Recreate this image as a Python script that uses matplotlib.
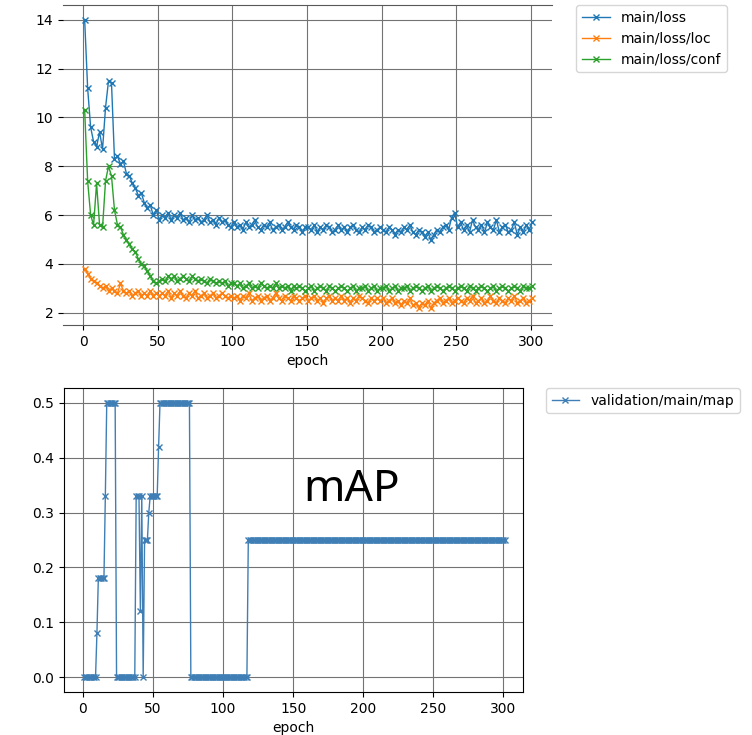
import matplotlib
matplotlib.use('Agg')
import numpy as np
import matplotlib.pyplot as plt

# loss values, one reading every 2 epochs (1, 3, ..., 301)
loss_epochs = np.arange(1, 302, 2)

main_loss = [
    14.0, 11.2, 9.6, 9.0, 8.8, 9.4, 8.7, 10.4, 11.5, 11.4,
    8.3, 8.4, 8.1, 8.2, 7.7, 7.6, 7.3, 7.1, 6.8, 6.9,
    6.5, 6.3, 6.4, 6.0, 6.2, 5.8, 6.0, 5.9, 6.1, 5.8,
    6.0, 5.9, 6.1, 5.8, 5.9, 5.7, 6.0, 5.8, 5.9, 5.7,
    5.8, 6.0, 5.7, 5.8, 5.6, 5.9, 5.7, 5.8, 5.6, 5.5,
    5.7, 5.5, 5.6, 5.4, 5.7, 5.5, 5.6, 5.8, 5.5, 5.4, 5.6, 5.5, 5.7,
    5.4, 5.5, 5.6, 5.4, 5.5, 5.7, 5.5, 5.4, 5.6, 5.5, 5.3, 5.5,
    5.5, 5.4, 5.6, 5.3, 5.5, 5.4, 5.6, 5.5, 5.3, 5.4, 5.6, 5.4, 5.5,
    5.3, 5.5, 5.6, 5.4, 5.3, 5.5, 5.4, 5.6, 5.5, 5.3, 5.4, 5.5,
    5.4, 5.3, 5.5, 5.4, 5.2, 5.4, 5.3, 5.5, 5.4, 5.6, 5.3, 5.2, 5.4,
    5.3, 5.1, 5.3, 5.0, 5.2, 5.4, 5.3, 5.5, 5.6, 5.4, 5.9, 6.1,
    5.5, 5.7, 5.4, 5.6, 5.3, 5.8, 5.5, 5.4, 5.6, 5.3, 5.7, 5.5, 5.4,
    5.8, 5.3, 5.5, 5.6, 5.3, 5.4, 5.7, 5.2, 5.5, 5.3, 5.6, 5.4, 5.7,
]

main_loss_loc = [
    3.8, 3.6, 3.4, 3.3, 3.2, 3.1, 3.0, 3.1, 2.9, 3.0, 2.9, 2.8, 3.2,
    2.9, 2.8, 2.9, 2.7, 2.8, 2.9, 2.7, 2.8, 2.7, 2.9, 2.7, 2.8,
    2.7, 2.8, 2.7, 2.9, 2.6, 2.8, 2.7, 2.9, 2.7, 2.6, 2.8, 2.7, 2.9,
    2.6, 2.7, 2.8, 2.6, 2.7, 2.8, 2.6, 2.7, 2.8, 2.7, 2.6, 2.7,
    2.6, 2.7, 2.5, 2.7, 2.6, 2.8, 2.5, 2.6, 2.7, 2.5, 2.6, 2.7, 2.5,
    2.6, 2.8, 2.6, 2.5, 2.7, 2.6, 2.5, 2.7, 2.6, 2.5, 2.6, 2.7,
    2.5, 2.6, 2.7, 2.5, 2.6, 2.4, 2.6, 2.7, 2.5, 2.6, 2.5, 2.7, 2.5,
    2.6, 2.4, 2.6, 2.5, 2.7, 2.6, 2.5, 2.4, 2.6, 2.5, 2.6, 2.5,
    2.6, 2.4, 2.5, 2.6, 2.4, 2.5, 2.3, 2.5, 2.4, 2.6, 2.3, 2.4, 2.2,
    2.4, 2.3, 2.5, 2.2, 2.4, 2.5, 2.6, 2.4, 2.5, 2.6, 2.4, 2.5,
    2.6, 2.5, 2.4, 2.6, 2.5, 2.7, 2.4, 2.5, 2.6, 2.4, 2.5, 2.7, 2.5,
    2.4, 2.6, 2.5, 2.4, 2.6, 2.5, 2.7, 2.4, 2.5, 2.6, 2.4, 2.5, 2.6,
]

main_loss_conf = [
    10.3, 7.4, 6.0, 5.6, 7.3, 5.6, 5.5, 7.4, 8.0, 7.6, 6.2, 5.6, 5.5,
    5.2, 5.0, 4.8, 4.6, 4.5, 4.2, 4.0, 3.9, 3.7, 3.5, 3.3, 3.2,
    3.3, 3.4, 3.3, 3.5, 3.4, 3.5, 3.3, 3.4, 3.5, 3.4, 3.3, 3.5, 3.4,
    3.3, 3.4, 3.3, 3.2, 3.4, 3.3, 3.2, 3.3, 3.2, 3.3, 3.1, 3.2,
    3.2, 3.1, 3.2, 3.0, 3.1, 3.2, 3.0, 3.1, 3.0, 3.2, 3.1, 3.0, 3.1,
    3.0, 3.2, 3.0, 3.1, 3.0, 3.1, 2.9, 3.1, 3.0, 3.1, 3.0, 2.9,
    3.0, 3.1, 2.9, 3.0, 3.1, 3.0, 2.9, 3.1, 3.0, 2.9, 3.0, 3.1, 3.0,
    2.9, 3.0, 3.1, 2.9, 3.0, 3.0, 3.1, 2.9, 3.0, 3.1, 2.9, 3.0,
    3.0, 3.1, 2.9, 3.0, 3.1, 2.9, 3.0, 3.0, 3.1, 2.9, 3.0, 3.1, 3.0,
    2.9, 3.0, 3.1, 2.9, 3.0, 3.1, 3.0, 2.9, 3.0, 3.1, 3.0, 2.9,
    3.0, 3.1, 3.0, 2.9, 3.1, 3.0, 2.9, 3.0, 3.1, 3.0, 2.9, 3.0, 3.1,
    2.9, 3.0, 3.1, 3.0, 2.9, 3.0, 3.1, 3.0, 2.9, 3.1, 3.0, 3.0, 3.1,
]

# validation mAP per epoch (1..301), stored as runs of (value, number of epochs)
map_values = [0.0, 0.08, 0.18, 0.33, 0.5, 0.0, 0.33, 0.12, 0.33, 0.0,
              0.25, 0.30, 0.33, 0.42, 0.5, 0.0, 0.25]
map_run_lengths = [9, 1, 5, 1, 7, 14, 3, 1, 1, 1, 3, 1, 6, 1, 22, 41, 184]

loss_labels = ['main/loss', 'main/loss/loc', 'main/loss/conf']
map_label = 'validation/main/map'


def style_grid(ax):
    ax.grid(True, color='0.45', linewidth=0.8)
    ax.set_axisbelow(True)


fig = plt.figure(figsize=(7.52, 7.35), dpi=100)

# top: losses
ax1 = fig.add_axes([0.0838, 0.5578, 0.6503, 0.4354])
for series, label in zip([main_loss, main_loss_loc, main_loss_conf], loss_labels):
    ax1.plot(loss_epochs, series, marker='x', markersize=4, linewidth=1,
             label=label)
ax1.set_xlim(-13.5, 314.3)
ax1.set_ylim(1.5, 14.6)
ax1.set_yticks([2, 4, 6, 8, 10, 12, 14])
ax1.set_xticks([0, 50, 100, 150, 200, 250, 300])
ax1.set_xlabel('epoch')
ax1.spines['left'].set_visible(False)
ax1.spines['right'].set_visible(False)
ax1.spines['top'].set_color('0.35')
ax1.spines['bottom'].set_color('0.35')
style_grid(ax1)
ax1.legend(bbox_to_anchor=(1.05, 1.0), loc='upper left', borderaxespad=0)

# bottom: validation mAP
map_per_epoch = np.repeat(map_values, map_run_lengths)
map_epochs = np.arange(1, len(map_per_epoch) + 1)

ax2 = fig.add_axes([0.0851, 0.0585, 0.6104, 0.4136])
ax2.plot(map_epochs, map_per_epoch, marker='x', markersize=4, linewidth=1,
         color='#3f7fb5', label=map_label)
ax2.set_xlim(-13.5, 314)
ax2.set_ylim(-0.027, 0.527)
ax2.set_xticks([0, 50, 100, 150, 200, 250, 300])
ax2.set_xlabel('epoch')
style_grid(ax2)
ax2.legend(bbox_to_anchor=(1.05, 1.0), loc='upper left', borderaxespad=0)

fig.text(0.468, 0.333, 'mAP', fontsize=32, family='Noto Sans',
         fontweight='light', ha='center', va='center')

fig.savefig('out.png', dpi=100)
